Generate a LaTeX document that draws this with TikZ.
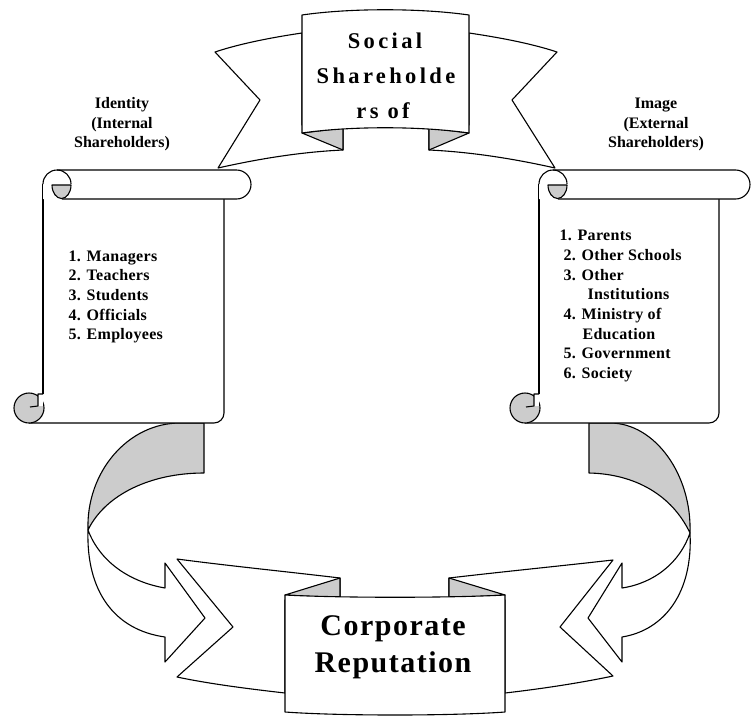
\documentclass[tikz,border=0pt]{standalone}
\usepackage{fontspec}
\setmainfont{Liberation Serif}
\newfontfamily\bannerfont[LetterSpace=15]{Liberation Serif}
\newfontfamily\corpfont[LetterSpace=5]{Liberation Serif}
\newfontfamily\listfont[LetterSpace=2]{Liberation Serif}
\definecolor{curlgray}{RGB}{204,204,204}
\newcommand{\myscroll}[3]{%
  % body
  \fill[white] (#1,184) -- (#1,423) -- ({#2-10},423) arc[start angle=90,end angle=0,radius=10] -- (#2,199) -- cycle;
  \draw (#1,184) -- (#1,394);
  \draw ({#1-14},423) -- ({#2-10},423) arc[start angle=90,end angle=0,radius=10] -- (#2,199);
  % bottom curl
  \draw[fill=curlgray] ({#1-14},408) circle[radius=15];
  \fill[white] (#1,394) rectangle ({#1-5},406);
  \draw (#1,394) -- ({#1-5},394) -- ({#1-5},406) -- ({#1-13},407);
  % top roll
  \fill[white] (#1,184) arc[start angle=180,end angle=270,radius=14] -- ({#3-14.5},170) arc[start angle=-90,end angle=90,radius=14.5] -- (#1,199) -- cycle;
  \draw ({#1+19},199) -- ({#3-14.5},199) arc[start angle=90,end angle=-90,radius=14.5] -- ({#1+14},170);
  \draw (#1,184) arc[start angle=180,end angle=360,radius=14];
  \draw[fill=curlgray] ({#1+9},185) -- ({#1+28},185) arc[start angle=0,end angle=180,x radius=9.5,y radius=13.5] -- cycle;
}
\tikzset{
  bigtitle/.style={font=\bannerfont\bfseries\fontsize{22.5}{27}\selectfont, inner sep=0, anchor=base},
  corptitle/.style={font=\corpfont\bfseries\fontsize{30}{34}\selectfont, inner sep=0, anchor=base},
  sidelabel/.style={font=\bfseries\fontsize{16}{19}\selectfont, inner sep=0, anchor=base},
  listitem/.style={font=\listfont\bfseries\fontsize{16}{19}\selectfont, inner sep=0, anchor=base west},
}
\begin{document}
\begin{tikzpicture}[x=1pt,y=-1pt,line width=1.1pt,line join=round]
\useasboundingbox (0,0) rectangle (752,715);

% ---- curved arrows ----
\draw[fill=curlgray] (180,423) -- (204,423) -- (204,473) .. controls (150,473) and (105,495) .. (88,530) .. controls (86,472) and (128,423) .. (180,423) -- cycle;
\draw[fill=white] (88,530) .. controls (100,562) and (130,582) .. (165,588) -- (165,563) -- (205,618) -- (165,662) -- (165,637) .. controls (115,630) and (86,592) .. (88,530) -- cycle;

\draw[fill=curlgray] (610,423) -- (589,423) -- (589,473) .. controls (635,474) and (672,495) .. (690,533) .. controls (692,475) and (655,423) .. (610,423) -- cycle;
\draw[fill=white] (690,533) .. controls (680,562) and (655,583) .. (622,588) -- (622,563) -- (588,618) -- (622,662) -- (622,637) .. controls (665,630) and (693,592) .. (690,533) -- cycle;

% ---- scrolls ----
\myscroll{43}{224}{251}
\myscroll{539}{719}{750}

% ---- top banner ----
\draw[fill=white] (302,33) .. controls (275,37) and (242,43) .. (215,52) -- (260,100) -- (218,168) .. controls (258,159) and (300,152) .. (343,150) -- (343,125) -- (302,125) -- cycle;
\draw[fill=white] (469,33) .. controls (496,37) and (530,43) .. (557,52) -- (512,100) -- (555,168) .. controls (515,159) and (472,152) .. (429,150) -- (429,125) -- (469,125) -- cycle;
\draw[fill=curlgray] (302,133) -- (343,150) -- (343,128) -- cycle;
\draw[fill=curlgray] (469,133) -- (429,150) -- (429,128) -- cycle;
\draw[fill=white] (302,15) .. controls (350,8) and (420,8) .. (469,15) -- (469,133) .. controls (420,126) and (350,126) .. (302,133) -- cycle;
\node[bigtitle] (t1) at (385,48) {Social};
\node[bigtitle] (t2) at (386,83) {Shareholde};
\node[bigtitle] (t3) at (383,118) {rs of};

% ---- bottom banner ----
\draw[fill=white] (177,559) .. controls (230,566) and (290,572) .. (340,578) -- (340,600) -- (285,600) -- (285,693) .. controls (250,689) and (210,684) .. (177,677) -- (233,627) -- cycle;
\draw[fill=white] (613,560) .. controls (560,566) and (500,572) .. (449,578) -- (449,600) -- (505,600) -- (505,693) .. controls (540,689) and (580,683) .. (613,676) -- (560,627) -- cycle;
\draw[fill=curlgray] (285,595) -- (340,578) -- (340,598) -- cycle;
\draw[fill=curlgray] (505,595) -- (449,578) -- (449,598) -- cycle;
\draw[fill=white] (285,595) .. controls (340,598) and (450,598) .. (505,595) -- (505,712) .. controls (450,716) and (340,716) .. (285,712) -- cycle;
\node[corptitle] (c1) at (393,635) {Corporate};
\node[corptitle] (c2) at (393,672) {Reputation};

% ---- side labels ----
\node[sidelabel] (l1) at (122,108) {Identity};
\node[sidelabel] (l2) at (122,128) {(Internal};
\node[sidelabel] (l3) at (122,147) {Shareholders)};
\node[sidelabel] (r1) at (656,108) {Image};
\node[sidelabel] (r2) at (656,128) {(External};
\node[sidelabel] (r3) at (656,147) {Shareholders)};

% ---- lists ----
\node[listitem] (a1) at (68,261) {1. Managers};
\node[listitem] (a2) at (68,280.7) {2. Teachers};
\node[listitem] (a3) at (68,300.4) {3. Students};
\node[listitem] (a4) at (68,320) {4. Officials};
\node[listitem] (a5) at (68,339.8) {5. Employees};

\node[listitem] (b1) at (559,240.7) {1. Parents};
\node[listitem] (b2) at (563,260.4) {2. Other Schools};
\node[listitem] (b3) at (563,280) {3. Other};
\node[listitem] (b4) at (587,299.8) {Institutions};
\node[listitem] (b5) at (563,319.5) {4. Ministry of};
\node[listitem] (b6) at (582,339) {Education};
\node[listitem] (b7) at (563,358.8) {5. Government};
\node[listitem] (b8) at (563,378.5) {6. Society};
\end{tikzpicture}
\end{document}
